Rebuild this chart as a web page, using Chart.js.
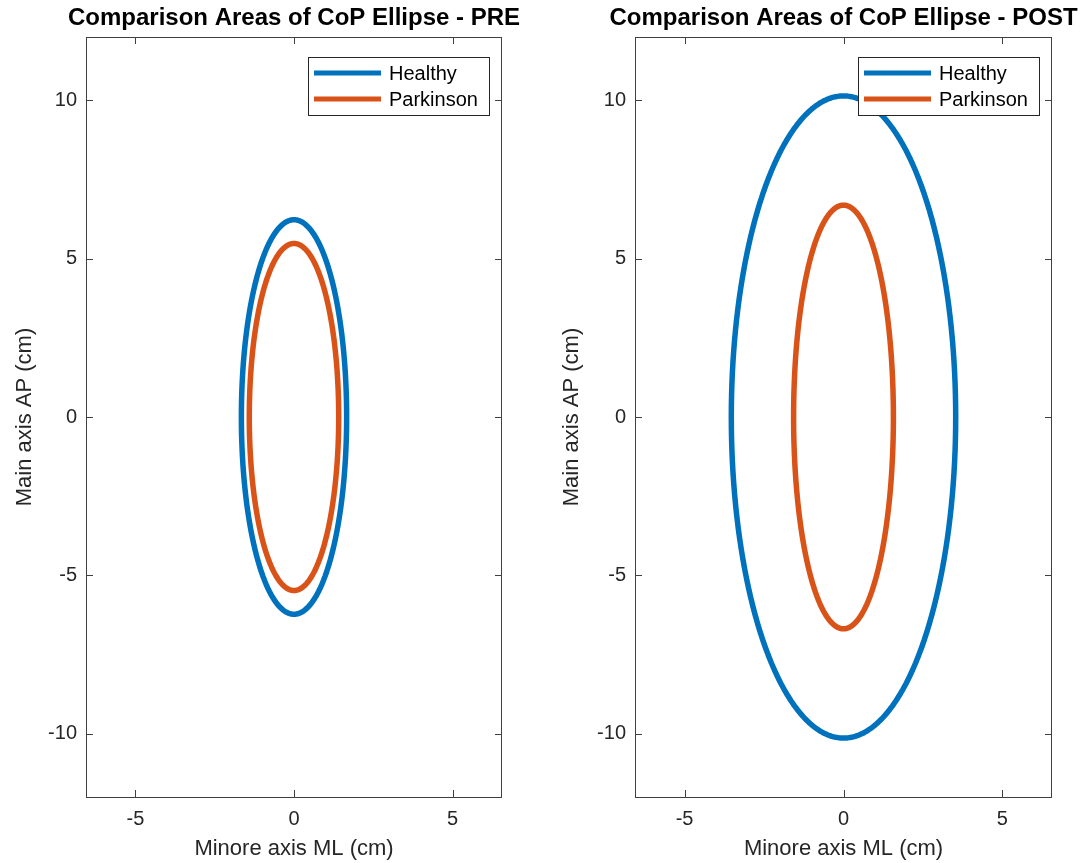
<!DOCTYPE html>
<html>
<head>
<meta charset="utf-8">
<title>Comparison Areas of CoP Ellipse</title>
<script src="https://cdn.jsdelivr.net/npm/chart.js@4.4.1/dist/chart.umd.min.js"></script>
<style>
  html, body { margin: 0; padding: 0; background: #fff; }
  #wrap { position: relative; width: 1089px; height: 863px; overflow: hidden; }
  canvas { position: absolute; top: 0; }
</style>
</head>
<body>
<div id="wrap">
  <canvas id="pre" width="545" height="863" style="left:0"></canvas>
  <canvas id="post" width="544" height="863" style="left:545px"></canvas>
</div>
<script>
// groups and the semi-axes (cm) of each CoP ellipse
const groups = ['Healthy', 'Parkinson'];
const groupColors = ['#0072BD', '#D95319'];
const mlSemiPre = [1.66, 1.41];
const apSemiPre = [6.23, 5.48];
const mlSemiPost = [3.53, 1.57];
const apSemiPost = [10.14, 6.69];

const xTicks = [-5, 0, 5];
const yTicks = [-10, -5, 0, 5, 10];
const xRange = [-6.56, 6.56];
const yRange = [-12, 12];

const FONT = "'Liberation Sans', Arial, Helvetica, sans-serif";
const TEXT = '#262626';

// outline of an ellipse centred on 0 with the given semi-axes
function ellipsePoints(a, b) {
  const pts = [];
  for (let i = 0; i <= 180; i++) {
    const t = (i / 180) * 2 * Math.PI;
    pts.push({ x: a * Math.cos(t), y: b * Math.sin(t) });
  }
  return pts;
}

// title centred over the axes, like matlab does it
const axesTitle = {
  id: 'axesTitle',
  afterDraw(chart, args, opts) {
    const { ctx, chartArea: a } = chart;
    ctx.save();
    ctx.font = 'bold 24px ' + FONT;
    ctx.fillStyle = '#000';
    ctx.textAlign = 'center';
    ctx.textBaseline = 'middle';
    ctx.fillText(opts.text, (a.left + a.right) / 2, 18);
    ctx.restore();
  }
};

// box and inward ticks like matlab "box on"
const axesBox = {
  id: 'axesBox',
  afterDatasetsDraw(chart) {
    const { ctx, chartArea: a, scales } = chart;
    const tl = 7;
    ctx.save();
    ctx.strokeStyle = '#404040';
    ctx.lineWidth = 1;
    ctx.strokeRect(Math.round(a.left) + 0.5, Math.round(a.top) + 0.5,
      Math.round(a.right - a.left) - 1, Math.round(a.bottom - a.top));
    ctx.beginPath();
    xTicks.forEach(v => {
      const x = Math.round(scales.x.getPixelForValue(v)) + 0.5;
      ctx.moveTo(x, a.bottom); ctx.lineTo(x, a.bottom - tl);
      ctx.moveTo(x, a.top); ctx.lineTo(x, a.top + tl);
    });
    yTicks.forEach(v => {
      const y = Math.round(scales.y.getPixelForValue(v)) + 0.5;
      ctx.moveTo(a.left, y); ctx.lineTo(a.left + tl, y);
      ctx.moveTo(a.right, y); ctx.lineTo(a.right - tl, y);
    });
    ctx.stroke();
    ctx.restore();
  }
};

// legend box in the upper right corner of the axes
const boxLegend = {
  id: 'boxLegend',
  afterDraw(chart) {
    const { ctx, chartArea: a } = chart;
    const w = 181, h = 58;
    const left = a.right - 13 - w, top = a.top + 20;
    ctx.save();
    ctx.fillStyle = '#fff';
    ctx.fillRect(left, top, w, h);
    ctx.strokeStyle = '#262626';
    ctx.lineWidth = 1;
    ctx.strokeRect(Math.round(left) + 0.5, Math.round(top) + 0.5, w, h);
    ctx.font = '20px ' + FONT;
    ctx.textBaseline = 'middle';
    chart.data.datasets.forEach((ds, i) => {
      const y = top + 16 + i * 26;
      ctx.strokeStyle = ds.borderColor;
      ctx.lineWidth = 5;
      ctx.beginPath();
      ctx.moveTo(left + 6, y);
      ctx.lineTo(left + 73, y);
      ctx.stroke();
      ctx.fillStyle = '#000';
      ctx.fillText(ds.label, left + 81, y + 1);
    });
    ctx.restore();
  }
};

function makePanel(id, title, mlSemi, apSemi, yWidth, padRight, yTitlePad) {
  const datasets = groups.map((g, i) => ({
    label: g,
    data: ellipsePoints(mlSemi[i], apSemi[i]),
    borderColor: groupColors[i],
    borderWidth: 5.5,
    borderJoinStyle: 'round',
    borderCapStyle: 'round',
    showLine: true,
    pointRadius: 0,
    tension: 0.01,
    fill: false
  }));

  return new Chart(document.getElementById(id), {
    type: 'scatter',
    data: { datasets },
    plugins: [axesBox, boxLegend, axesTitle],
    options: {
      responsive: false,
      animation: false,
      layout: { padding: { left: 0, right: padRight, top: 37, bottom: 0 } },
      plugins: {
        legend: { display: false },
        tooltip: { enabled: false },
        title: { display: false },
        axesTitle: { text: title }
      },
      scales: {
        x: {
          type: 'linear',
          min: xRange[0],
          max: xRange[1],
          afterBuildTicks: s => { s.ticks = xTicks.map(v => ({ value: v })); },
          afterFit: s => { s.height = 66; },
          grid: { display: false, drawTicks: false },
          border: { display: false },
          ticks: { color: TEXT, padding: 10, font: { family: FONT, size: 20 } },
          title: {
            display: true,
            text: 'Minore axis ML (cm)',
            color: TEXT,
            font: { family: FONT, size: 22 },
            padding: { top: 0, bottom: 1 }
          }
        },
        y: {
          type: 'linear',
          min: yRange[0],
          max: yRange[1],
          afterBuildTicks: s => { s.ticks = yTicks.map(v => ({ value: v })); },
          afterFit: s => { s.width = yWidth; },
          grid: { display: false, drawTicks: false },
          border: { display: false },
          ticks: { color: TEXT, padding: 9, font: { family: FONT, size: 20 } },
          title: {
            display: true,
            text: 'Main axis AP (cm)',
            color: TEXT,
            font: { family: FONT, size: 22 },
            padding: { top: yTitlePad, bottom: 0 }
          }
        }
      }
    }
  });
}

makePanel('pre', 'Comparison Areas of CoP Ellipse - PRE', mlSemiPre, apSemiPre, 86, 43, 12);
makePanel('post', 'Comparison Areas of CoP Ellipse - POST', mlSemiPost, apSemiPost, 90, 37, 14);
</script>
</body>
</html>
